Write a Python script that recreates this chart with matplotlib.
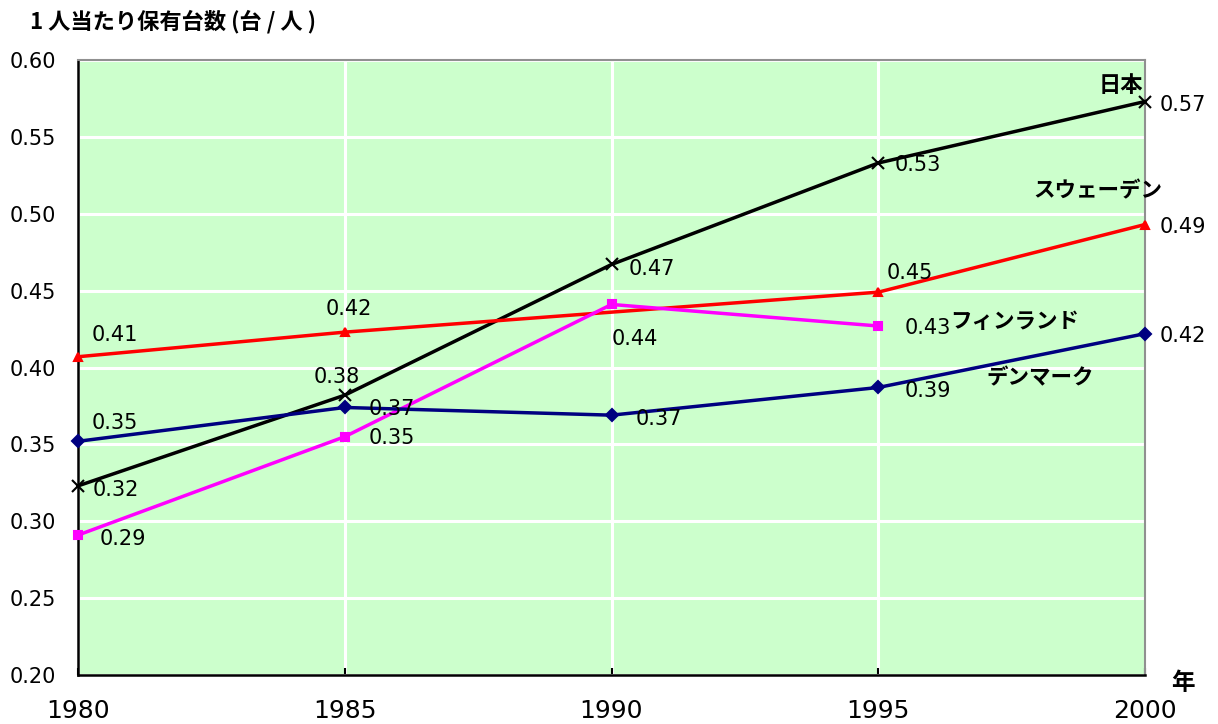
import numpy as np
import matplotlib
matplotlib.use('Agg')
import matplotlib.pyplot as plt

plt.rcParams['font.family'] = ['DejaVu Sans', 'Noto Sans CJK JP']

years = [1980, 1985, 1990, 1995, 2000]

japan = [0.323, 0.382, 0.467, 0.533, 0.573]
japan_lbl = ['0.32', '0.38', '0.47', '0.53', '0.57']

sweden_years = [1980, 1985, 1995, 2000]
sweden = [0.407, 0.423, 0.449, 0.493]
sweden_lbl = ['0.41', '0.42', '0.45', '0.49']

finland_years = [1980, 1985, 1990, 1995]
finland = [0.291, 0.355, 0.441, 0.427]
finland_lbl = ['0.29', '0.35', '0.44', '0.43']

denmark = [0.352, 0.374, 0.369, 0.387, 0.422]
denmark_lbl = ['0.35', '0.37', '0.37', '0.39', '0.42']

yticks = [0.20, 0.25, 0.30, 0.35, 0.40, 0.45, 0.50, 0.55, 0.60]

# label offsets in pixels (dx, dy)
japan_off = [(15, -4), (-31, 18), (17, -5), (16, -2), (15, -3)]
sweden_off = [(14, 22), (-19, 23), (8, 19), (15, -2)]
finland_off = [(22, -4), (24, -1), (0, -35), (26, -2)]
denmark_off = [(14, 18), (24, -2), (24, -4), (26, -4), (15, -2)]

fig = plt.figure(figsize=(12.18, 7.24), dpi=100)
ax = fig.add_axes([78 / 1218, 1 - 675 / 724, (1145 - 78) / 1218, (675 - 60) / 724])
ax.set_facecolor('#CCFFCC')
ax.set_xlim(1980, 2000)
ax.set_ylim(0.20, 0.60)
ax.set_xticks(years)
ax.set_yticks(yticks)
ax.set_yticklabels(['%.2f' % v for v in yticks], fontsize=15)
ax.set_xticklabels([str(y) for y in years], fontsize=18)
ax.tick_params(axis='x', direction='in', length=5, width=1.5, pad=17)
ax.tick_params(axis='y', length=0, pad=16)
ax.grid(True, color='white', linewidth=2.2, zorder=0)
ax.set_axisbelow(True)
for s in ['left', 'bottom']:
    ax.spines[s].set_color('black')
    ax.spines[s].set_linewidth(1.8)
for s in ['top', 'right']:
    ax.spines[s].set_color('#909090')
    ax.spines[s].set_linewidth(1.5)

series = [
    (years, japan, japan_lbl, japan_off, 'black', 'x', 9),
    (sweden_years, sweden, sweden_lbl, sweden_off, '#FF0000', '^', 6),
    (finland_years, finland, finland_lbl, finland_off, '#FF00FF', 's', 6),
    (years, denmark, denmark_lbl, denmark_off, '#000080', 'D', 6),
]
for xs, ys, lbls, offs, col, mk, ms in series:
    ax.plot(xs, ys, color=col, linewidth=2.5, marker=mk, markersize=ms,
            markeredgewidth=1.5, clip_on=False, zorder=3)
    for x, y, t, (dx, dy) in zip(xs, ys, lbls, offs):
        ax.annotate(t, (x, y), xytext=(dx, dy), textcoords='offset pixels',
                    ha='left', va='center', fontsize=15, annotation_clip=False)

jp = ['Noto Sans CJK JP']
fig.text(30 / 1218, 1 - 22 / 724, '1 人当たり保有台数 (台 / 人 )', ha='left',
         va='center', family=jp, fontweight='bold', fontsize=16)
fig.text(1143 / 1218, 1 - 86 / 724, '日本', ha='right', va='center',
         family=jp, fontweight='bold', fontsize=16)
fig.text(1098 / 1218, 1 - 191 / 724, 'スウェーデン', ha='center', va='center',
         family=jp, fontweight='bold', fontsize=15.5)
fig.text(1015 / 1218, 1 - 322 / 724, 'フィンランド', ha='center', va='center',
         family=jp, fontweight='bold', fontsize=15.5)
fig.text(1040 / 1218, 1 - 378 / 724, 'デンマーク', ha='center', va='center',
         family=jp, fontweight='bold', fontsize=15.5)
fig.text(1183 / 1218, 1 - 683 / 724, '年', ha='center', va='center',
         family=jp, fontweight='bold', fontsize=17)

fig.savefig('out.png', dpi=100)
